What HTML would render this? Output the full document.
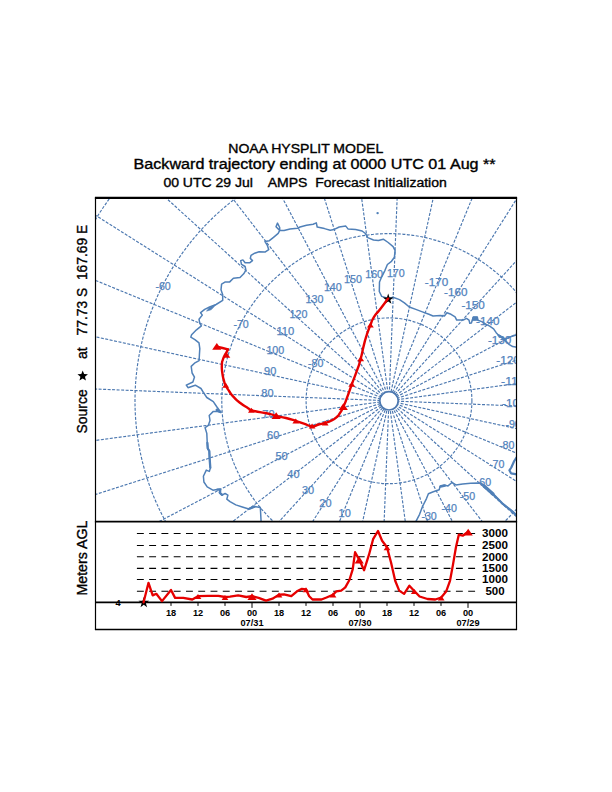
<!DOCTYPE html>
<html><head><meta charset="utf-8"><title>NOAA HYSPLIT MODEL</title>
<style>html,body{margin:0;padding:0;background:#fff}svg{display:block}text{font-family:"Liberation Sans",Arial,Helvetica,sans-serif}</style></head>
<body>
<svg width="612" height="792" viewBox="0 0 612 792">
<rect width="612" height="792" fill="#fff"/>
<defs><clipPath id="mapclip"><rect x="95.5" y="197.6" width="421.0" height="324.0"/></clipPath></defs>
<g clip-path="url(#mapclip)">
<g fill="none" stroke="#4c78b0" stroke-width="1.15" stroke-dasharray="3 1.5">
<line x1="391.0" y1="391.8" x2="530.4" y2="-247.8" stroke-dashoffset="0.0"/>
<line x1="392.5" y1="392.3" x2="640.9" y2="-213.4" stroke-dashoffset="0.2"/>
<line x1="393.9" y1="393.0" x2="743.7" y2="-160.3" stroke-dashoffset="0.4"/>
<line x1="395.2" y1="394.0" x2="835.7" y2="-90.2" stroke-dashoffset="0.6"/>
<line x1="396.3" y1="395.2" x2="914.2" y2="-5.1" stroke-dashoffset="0.8"/>
<line x1="397.1" y1="396.5" x2="976.7" y2="92.2" stroke-dashoffset="1.0"/>
<line x1="397.8" y1="398.0" x2="1021.4" y2="199.0" stroke-dashoffset="1.2"/>
<line x1="398.1" y1="399.6" x2="1046.8" y2="311.9" stroke-dashoffset="1.4"/>
<line x1="398.2" y1="401.2" x2="1052.3" y2="427.4" stroke-dashoffset="1.6"/>
<line x1="398.0" y1="402.8" x2="1037.6" y2="542.2" stroke-dashoffset="1.8"/>
<line x1="397.5" y1="404.3" x2="1003.2" y2="652.7" stroke-dashoffset="2.0"/>
<line x1="396.8" y1="405.7" x2="950.1" y2="755.5" stroke-dashoffset="2.2"/>
<line x1="395.8" y1="407.0" x2="880.0" y2="847.5" stroke-dashoffset="2.4"/>
<line x1="394.6" y1="408.1" x2="794.9" y2="926.0" stroke-dashoffset="2.6"/>
<line x1="393.3" y1="408.9" x2="697.6" y2="988.5" stroke-dashoffset="2.8"/>
<line x1="391.8" y1="409.6" x2="590.8" y2="1033.2" stroke-dashoffset="3.0"/>
<line x1="390.2" y1="409.9" x2="477.9" y2="1058.6" stroke-dashoffset="3.2"/>
<line x1="388.6" y1="410.0" x2="362.4" y2="1064.1" stroke-dashoffset="3.4"/>
<line x1="387.0" y1="409.8" x2="247.6" y2="1049.4" stroke-dashoffset="3.6"/>
<line x1="385.5" y1="409.3" x2="137.1" y2="1015.0" stroke-dashoffset="3.8"/>
<line x1="384.1" y1="408.6" x2="34.3" y2="961.9" stroke-dashoffset="4.0"/>
<line x1="382.8" y1="407.6" x2="-57.7" y2="891.8" stroke-dashoffset="4.2"/>
<line x1="381.7" y1="406.4" x2="-136.2" y2="806.7" stroke-dashoffset="4.4"/>
<line x1="380.9" y1="405.1" x2="-198.7" y2="709.4" stroke-dashoffset="0.0"/>
<line x1="380.2" y1="403.6" x2="-243.4" y2="602.6" stroke-dashoffset="0.2"/>
<line x1="379.9" y1="402.0" x2="-268.8" y2="489.7" stroke-dashoffset="0.4"/>
<line x1="379.8" y1="400.4" x2="-274.3" y2="374.2" stroke-dashoffset="0.6"/>
<line x1="380.0" y1="398.8" x2="-259.6" y2="259.4" stroke-dashoffset="0.8"/>
<line x1="380.5" y1="397.3" x2="-225.2" y2="148.9" stroke-dashoffset="1.0"/>
<line x1="381.2" y1="395.9" x2="-172.1" y2="46.1" stroke-dashoffset="1.2"/>
<line x1="382.2" y1="394.6" x2="-102.0" y2="-45.9" stroke-dashoffset="1.4"/>
<line x1="383.4" y1="393.5" x2="-16.9" y2="-124.4" stroke-dashoffset="1.6"/>
<line x1="384.7" y1="392.7" x2="80.4" y2="-186.9" stroke-dashoffset="1.8"/>
<line x1="386.2" y1="392.0" x2="187.2" y2="-231.6" stroke-dashoffset="2.0"/>
<line x1="387.8" y1="391.7" x2="300.1" y2="-257.0" stroke-dashoffset="2.2"/>
<line x1="389.4" y1="391.6" x2="415.6" y2="-262.5" stroke-dashoffset="2.4"/>
<circle cx="389.0" cy="400.8" r="82.9"/>
<circle cx="389.0" cy="400.8" r="167.2"/>
<circle cx="389.0" cy="400.8" r="254.0"/>
<circle cx="389.0" cy="400.8" r="345.0"/>
<circle cx="389.0" cy="400.8" r="442.1"/>
</g>
<circle cx="389.0" cy="400.8" r="9.2" fill="none" stroke="#4c78b0" stroke-width="1.7"/>
<g fill="none" stroke="#5080b8" stroke-width="1.5" stroke-linejoin="round" stroke-linecap="round">
<polyline points="261.1,521.9 260.6,512.3 260.3,507.4 254.5,506.5 248.8,509.0 242.3,507.0 235.8,504.9 230.0,501.6 226.8,499.2 227.9,495.1 225.1,493.5 221.9,495.1 219.4,492.7 220.2,489.1 217.0,489.4 212.9,490.2 207.2,486.9 203.9,482.0 203.4,476.3 206.3,470.1 209.3,471.4 210.4,468.1 209.6,458.3 209.3,451.0 207.6,448.5 207.2,442.0 206.8,433.4 205.1,427.7 208.4,425.3 210.0,420.4 209.2,415.5 213.3,411.4 217.4,411.4 220.7,412.2 216.6,406.5 213.3,401.6 206.8,397.5 203.5,392.6 201.0,388.5 195.3,385.2 188.0,387.7 186.3,385.2 192.9,382.0 194.5,377.1 192.1,373.0 191.2,366.4 194.5,363.2 199.1,360.7 199.4,355.0 199.8,348.6 199.0,342.9 194.9,339.6 190.8,337.2 191.6,334.7 196.5,329.8 201.4,325.8 199.8,323.3 199.0,319.2 202.3,315.1 200.6,312.7 204.7,309.4 209.6,307.0 216.1,304.5 222.7,300.4 222.7,294.7 221.0,289.8 221.6,284.1 225.3,281.9 229.7,281.9 233.4,278.2 240.0,277.5 243.7,273.8 245.9,270.1 245.1,266.5 241.5,264.3 240.7,260.6 242.9,259.9 245.1,262.8 249.6,262.8 252.5,260.6 250.3,258.4 251.0,255.4 254.7,253.2 259.1,251.8 265.0,252.1 268.7,249.6 267.2,245.1 265.0,241.5 269.4,240.7 273.8,237.1 278.2,233.4 279.7,230.4 276.0,226.8 277.5,223.1 279.7,227.5 279.7,230.4 284.1,230.4 290.0,229.0 297.4,228.2 300.0,227.0 306.5,225.3 313.1,224.2 316.3,222.9 317.2,227.0 324.5,228.6 330.2,230.2 334.3,229.4 339.2,227.0 345.8,226.1 348.2,229.1 355.6,229.4 362.1,231.0 365.4,233.5 367.8,237.6 373.5,240.0 378.4,240.5 383.3,239.2 388.2,242.5 393.1,246.6 395.1,250.7 394.4,257.2 391.5,261.3 387.4,264.5 385.0,270.3 381.7,276.8 379.5,282.0 379.3,291.5 381.7,296.4 386.6,298.0 388.1,298.6 393.0,297.2 399.5,299.6 404.4,302.9 409.3,307.0 415.8,309.4 422.4,311.9 428.9,314.3 433.0,316.0 440.4,315.5 444.4,316.0 446.9,312.7 451.0,314.3 455.1,316.8 456.7,320.1 463.2,320.1 466.5,318.4 469.0,320.1 469.8,323.3 471.4,322.9 473.3,317.0 477.3,317.0 477.9,320.3 481.8,321.6 485.8,324.2 489.7,326.2 493.6,328.8 496.2,332.7 498.8,335.5 502.2,337.5 506.1,341.4 509.4,344.6 512.7,346.6 518.0,347.3"/>
<polyline points="504.0,339.5 510.7,336.8 518.0,334.3"/>
<polyline points="415.7,521.9 419.6,514.3 422.5,506.5 426.5,498.6 428.4,493.7 433.3,491.8 439.2,489.8 440.2,485.9 444.1,484.9 448.0,485.9 452.0,482.5 455.9,484.9 462.7,483.9 470.6,483.3 478.4,482.9 481.0,483.2 491.5,492.6 502.2,503.3 512.9,511.9 518.0,517.0"/>
<polyline points="516.5,457.5 514.2,461.0 511.3,467.5 509.4,470.3 511.0,473.3 518.0,474.6" stroke-width="2.2"/>
<polyline points="482.5,484.5 491.5,492.6 502.2,503.3 512.9,511.9 518.0,517.0" stroke-width="2.2"/>
<polyline points="484.0,486.0 493.0,494.0" stroke-width="3.2"/>
<polygon points="216.1,304.5 209,308 206.5,311.2 211,309.8" fill="#5080b8" stroke-width="0.6"/>
<circle cx="377.6" cy="213.1" r="1.2" fill="#5080b8" stroke="none"/>
<polygon points="473.3,317 477.3,317 477.9,320.3 472.6,320.6" fill="#5080b8" stroke-width="0.8"/>
<polyline points="498.8,335.5 502.2,337.5 505,340" stroke-width="2.6"/>
<polyline points="217.5,489.6 220.2,489.6 220,492.9 222.2,494.8" stroke-width="2.4"/>
<polyline points="249.5,508.6 254.5,506.7" stroke-width="2.4"/>
<polyline points="216.8,409.8 220.5,412" stroke-width="2.6"/>
<polyline points="440.6,486.6 445,485.6" stroke-width="2.4"/>
<polyline points="207.4,443 207.8,448.5 209.3,451 209.6,458.3 210.3,467.5" stroke-width="2.3"/>
</g>
<g fill="#5283bd" stroke="#5283bd" stroke-width="0.25" font-size="10.7px">
<text x="424.8" y="286.0" textLength="23.4" lengthAdjust="spacingAndGlyphs">-170</text>
<text x="444.1" y="296.0" textLength="23.4" lengthAdjust="spacingAndGlyphs">-160</text>
<text x="461.4" y="309.2" textLength="23.4" lengthAdjust="spacingAndGlyphs">-150</text>
<text x="476.1" y="325.2" textLength="23.4" lengthAdjust="spacingAndGlyphs">-140</text>
<text x="487.9" y="343.5" textLength="23.4" lengthAdjust="spacingAndGlyphs">-130</text>
<text x="496.3" y="363.6" textLength="23.4" lengthAdjust="spacingAndGlyphs">-120</text>
<text x="501.1" y="384.8" textLength="23.4" lengthAdjust="spacingAndGlyphs">-110</text>
<text x="502.1" y="406.5" textLength="23.4" lengthAdjust="spacingAndGlyphs">-100</text>
<text x="505.4" y="428.1" textLength="15.4" lengthAdjust="spacingAndGlyphs">-90</text>
<text x="499.0" y="448.9" textLength="15.4" lengthAdjust="spacingAndGlyphs">-80</text>
<text x="489.0" y="468.2" textLength="15.4" lengthAdjust="spacingAndGlyphs">-70</text>
<text x="475.8" y="485.5" textLength="15.4" lengthAdjust="spacingAndGlyphs">-60</text>
<text x="459.8" y="500.2" textLength="15.4" lengthAdjust="spacingAndGlyphs">-50</text>
<text x="441.5" y="512.0" textLength="15.4" lengthAdjust="spacingAndGlyphs">-40</text>
<text x="421.4" y="520.4" textLength="15.4" lengthAdjust="spacingAndGlyphs">-30</text>
<text x="338.6" y="517.0" textLength="12.2" lengthAdjust="spacingAndGlyphs">10</text>
<text x="319.3" y="507.0" textLength="12.2" lengthAdjust="spacingAndGlyphs">20</text>
<text x="302.0" y="493.8" textLength="12.2" lengthAdjust="spacingAndGlyphs">30</text>
<text x="287.3" y="477.8" textLength="12.2" lengthAdjust="spacingAndGlyphs">40</text>
<text x="275.5" y="459.5" textLength="12.2" lengthAdjust="spacingAndGlyphs">50</text>
<text x="267.1" y="439.4" textLength="12.2" lengthAdjust="spacingAndGlyphs">60</text>
<text x="262.3" y="418.2" textLength="12.2" lengthAdjust="spacingAndGlyphs">70</text>
<text x="261.3" y="396.5" textLength="12.2" lengthAdjust="spacingAndGlyphs">80</text>
<text x="264.1" y="374.9" textLength="12.2" lengthAdjust="spacingAndGlyphs">90</text>
<text x="266.4" y="354.1" textLength="17.9" lengthAdjust="spacingAndGlyphs">100</text>
<text x="276.4" y="334.8" textLength="17.9" lengthAdjust="spacingAndGlyphs">110</text>
<text x="289.6" y="317.5" textLength="17.9" lengthAdjust="spacingAndGlyphs">120</text>
<text x="305.6" y="302.8" textLength="17.9" lengthAdjust="spacingAndGlyphs">130</text>
<text x="323.9" y="291.0" textLength="17.9" lengthAdjust="spacingAndGlyphs">140</text>
<text x="344.0" y="282.6" textLength="17.9" lengthAdjust="spacingAndGlyphs">150</text>
<text x="365.2" y="277.8" textLength="17.9" lengthAdjust="spacingAndGlyphs">160</text>
<text x="386.9" y="276.8" textLength="17.9" lengthAdjust="spacingAndGlyphs">170</text>
<text x="308.0" y="366.5" textLength="15.4" lengthAdjust="spacingAndGlyphs">-80</text>
<text x="233.4" y="328.0" textLength="15.4" lengthAdjust="spacingAndGlyphs">-70</text>
<text x="155.4" y="289.7" textLength="15.4" lengthAdjust="spacingAndGlyphs">-60</text>
</g>
<polygon points="388.20,293.60 389.49,297.42 393.53,297.47 390.29,299.88 391.49,303.73 388.20,301.40 384.91,303.73 386.11,299.88 382.87,297.47 386.91,297.42" fill="#000"/>
<path d="M388.1,298.6C385.4,302.1 384.8,303.0 380.1,309.2C375.4,315.4 377.1,311.8 373.9,317.1C370.7,322.4 372.8,319.2 370.4,325.1C368.0,331.0 369.0,328.0 366.8,334.8C364.6,341.6 365.8,337.4 363.8,345.4C361.8,353.4 362.9,350.4 360.7,358.7C358.5,367.0 360.1,361.7 357.1,370.2C354.1,378.7 355.0,375.5 351.8,384.3C348.6,393.1 350.2,389.2 347.4,396.7C344.6,404.2 345.8,401.4 343.3,406.9C340.8,412.4 342.1,409.7 339.9,413.1C337.7,416.5 339.3,414.8 336.6,417.2C333.9,419.6 335.5,418.5 331.7,420.4C327.9,422.3 329.6,421.5 325.2,422.9C320.8,424.3 323.0,423.4 318.6,424.5C314.2,425.6 317.0,426.4 312.1,426.1C307.2,425.8 309.3,425.4 303.9,423.7C298.5,422.0 301.8,422.8 295.8,420.9C289.8,419.0 292.5,419.6 286.0,418.0C279.5,416.4 281.4,417.3 276.2,416.0C271.0,414.7 275.8,415.4 270.4,414.1C265.0,412.8 266.2,413.4 259.9,412.1C253.6,410.8 255.3,411.5 251.4,410.2C247.5,408.9 251.8,410.6 248.1,408.2C244.4,405.8 245.1,406.7 240.3,403.0C235.5,399.3 237.5,401.0 233.8,397.1C230.1,393.2 231.9,395.1 229.2,391.2C226.5,387.3 227.4,388.8 225.7,385.3C224.0,381.8 225.1,384.9 224.0,380.8C222.9,376.7 223.0,378.3 222.3,372.9C221.6,367.5 221.7,369.0 221.9,364.5C222.1,360.0 222.0,362.6 222.9,359.5C223.8,356.4 223.5,357.7 224.7,355.3C225.9,352.9 225.5,354.2 226.6,352.2C227.7,350.2 227.5,350.3 227.9,349.4" fill="none" stroke="#e60000" stroke-width="2.4" stroke-linejoin="round" stroke-linecap="round"/>
<polyline points="227.9,349.4 222.5,348.0 216.8,346.6" fill="none" stroke="#e60000" stroke-width="2.4" stroke-linejoin="round" stroke-linecap="round"/>
<g fill="#e60000">
<polygon points="367.0,327.6 373.8,327.6 370.4,322.6"/>
<polygon points="357.3,361.2 364.1,361.2 360.7,356.2"/>
<polygon points="348.4,386.8 355.2,386.8 351.8,381.8"/>
<polygon points="338.7,410.0 347.9,410.0 343.3,403.2"/>
<polygon points="321.8,425.4 328.6,425.4 325.2,420.4"/>
<polygon points="308.7,428.6 315.5,428.6 312.1,423.6"/>
<polygon points="292.4,423.4 299.2,423.4 295.8,418.4"/>
<polygon points="271.6,419.1 280.8,419.1 276.2,412.3"/>
<polygon points="248.0,412.7 254.8,412.7 251.4,407.7"/>
<polygon points="222.3,387.8 229.1,387.8 225.7,382.8"/>
<polygon points="223.5,357.8 230.3,357.8 226.9,352.8"/>
<polygon points="212.2,349.7 221.4,349.7 216.8,342.9"/>
</g>
</g>
<g stroke="#000" stroke-width="1.1" stroke-dasharray="6.9 5.37">
<line x1="136.9" y1="533.5" x2="476" y2="533.5"/>
<line x1="136.9" y1="545.5" x2="476" y2="545.5"/>
<line x1="136.9" y1="556.7" x2="476" y2="556.7"/>
<line x1="136.9" y1="568.4" x2="476" y2="568.4"/>
<line x1="136.9" y1="579.5" x2="476" y2="579.5"/>
<line x1="136.9" y1="591.3" x2="476" y2="591.3"/>
</g>
<g fill="none" stroke="#000">
<line x1="94.9" y1="197.79999999999998" x2="517.1" y2="197.79999999999998" stroke-width="2.2"/>
<line x1="95.5" y1="197.6" x2="95.5" y2="629.5" stroke-width="1.2"/>
<line x1="516.5" y1="197.6" x2="516.5" y2="629.5" stroke-width="1.2"/>
<line x1="94.9" y1="521.6" x2="517.1" y2="521.6" stroke-width="1.6"/>
<line x1="94.9" y1="629.5" x2="517.1" y2="629.5" stroke-width="1.4"/>
<line x1="95.5" y1="602.4" x2="516.5" y2="602.4" stroke-width="1.7"/>
<line x1="171.0" y1="602.4" x2="171.0" y2="605.9" stroke-width="1"/>
<line x1="198.0" y1="602.4" x2="198.0" y2="605.9" stroke-width="1"/>
<line x1="225.0" y1="602.4" x2="225.0" y2="605.9" stroke-width="1"/>
<line x1="252.0" y1="602.4" x2="252.0" y2="607.9" stroke-width="1"/>
<line x1="279.0" y1="602.4" x2="279.0" y2="605.9" stroke-width="1"/>
<line x1="306.0" y1="602.4" x2="306.0" y2="605.9" stroke-width="1"/>
<line x1="333.0" y1="602.4" x2="333.0" y2="605.9" stroke-width="1"/>
<line x1="360.0" y1="602.4" x2="360.0" y2="607.9" stroke-width="1"/>
<line x1="387.0" y1="602.4" x2="387.0" y2="605.9" stroke-width="1"/>
<line x1="414.0" y1="602.4" x2="414.0" y2="605.9" stroke-width="1"/>
<line x1="441.0" y1="602.4" x2="441.0" y2="605.9" stroke-width="1"/>
<line x1="468.0" y1="602.4" x2="468.0" y2="607.9" stroke-width="1"/>
</g>
<polygon points="143.80,597.00 145.09,600.82 149.13,600.87 145.89,603.28 147.09,607.13 143.80,604.80 140.51,607.13 141.71,603.28 138.47,600.87 142.51,600.82" fill="#000"/>
<polyline points="143.6,602.3 148.5,582.8 152.7,595.4 156.3,593.8 162.0,601.1 171.0,590.0 175.1,597.9 183.3,597.9 192.3,599.5 198.0,596.2 208.0,595.8 218.4,595.8 225.0,597.0 230.0,596.6 238.2,595.4 246.3,597.0 252.0,596.2 258.6,597.9 266.0,600.7 272.5,598.7 279.0,594.6 284.0,594.3 291.3,596.2 297.0,591.3 301.9,588.9 306.0,589.4 309.2,596.2 312.5,599.5 321.5,599.5 326.5,597.5 333.0,594.7 336.3,591.4 341.2,590.6 345.3,587.4 349.4,580.0 352.7,569.4 355.1,552.2 359.2,559.6 364.1,570.2 369.0,554.7 373.1,539.2 378.0,531.0 382.1,540.8 387.0,547.3 391.1,562.8 395.2,580.8 399.2,590.6 404.1,593.9 409.4,585.7 414.3,591.0 419.6,596.5 427.5,599.0 435.3,599.5 441.2,597.5 446.1,591.6 450.0,580.8 452.9,565.1 455.9,547.5 458.8,534.7 462.7,535.7 468.2,531.8" fill="none" stroke="#e60000" stroke-width="2.3" stroke-linejoin="round" stroke-linecap="round"/>
<g fill="#e60000">
<polygon points="194.6,599.1 201.4,599.1 198.0,594.1"/>
<polygon points="221.6,599.9 228.4,599.9 225.0,594.9"/>
<polygon points="247.4,600.0 256.6,600.0 252.0,593.2"/>
<polygon points="275.6,597.5 282.4,597.5 279.0,592.5"/>
<polygon points="302.6,592.3 309.4,592.3 306.0,587.3"/>
<polygon points="329.6,597.6 336.4,597.6 333.0,592.6"/>
<polygon points="354.6,563.4 363.8,563.4 359.2,556.6"/>
<polygon points="383.6,550.2 390.4,550.2 387.0,545.2"/>
<polygon points="410.9,593.9 417.7,593.9 414.3,588.9"/>
<polygon points="437.8,600.4 444.6,600.4 441.2,595.4"/>
<polygon points="463.6,535.6 472.8,535.6 468.2,528.8"/>
</g>
<g fill="#000" stroke="#000" stroke-width="0.35">
<text x="228.3" y="152.7" font-size="12.5px" textLength="155" lengthAdjust="spacingAndGlyphs">NOAA HYSPLIT MODEL</text>
<text x="133.6" y="169.4" font-size="13.8px" textLength="362" lengthAdjust="spacingAndGlyphs">Backward trajectory ending at 0000 UTC 01 Aug **</text>
<text x="163.4" y="186.6" font-size="12.5px" textLength="283.4" lengthAdjust="spacingAndGlyphs" xml:space="preserve">00 UTC 29 Jul    AMPS  Forecast Initialization</text>
<text transform="translate(86.9,433.4) rotate(-90)" font-size="13.9px" xml:space="preserve">Source</text>
<text transform="translate(86.9,359) rotate(-90)" font-size="13.9px" xml:space="preserve">at</text>
<text transform="translate(86.9,335.4) rotate(-90)" font-size="13.9px" textLength="110.6" lengthAdjust="spacingAndGlyphs" xml:space="preserve">77.73 S  167.69 E</text>
<text transform="translate(86.9,595.6) rotate(-90)" font-size="13.9px" textLength="75" lengthAdjust="spacingAndGlyphs">Meters AGL</text>
</g>
<polygon points="82.70,370.50 84.11,374.06 87.93,374.30 84.98,376.74 85.93,380.45 82.70,378.40 79.47,380.45 80.42,376.74 77.47,374.30 81.29,374.06" fill="#000"/>
<g fill="#000" font-size="9.2px" text-anchor="middle" font-weight="bold">
<text x="171.0" y="616.2">18</text>
<text x="198.0" y="616.2">12</text>
<text x="225.0" y="616.2">06</text>
<text x="252.0" y="616.2">00</text>
<text x="279.0" y="616.2">18</text>
<text x="306.0" y="616.2">12</text>
<text x="333.0" y="616.2">06</text>
<text x="360.0" y="616.2">00</text>
<text x="387.0" y="616.2">18</text>
<text x="414.0" y="616.2">12</text>
<text x="441.0" y="616.2">06</text>
<text x="468.0" y="616.2">00</text>
<text x="252.0" y="626.4">07/31</text>
<text x="360.0" y="626.4">07/30</text>
<text x="468.0" y="626.4">07/29</text>
<text x="118" y="605.6">4</text>
</g>
<g fill="#000" font-size="11px" text-anchor="middle" font-weight="bold">
<text x="495" y="537.4" textLength="25.9" lengthAdjust="spacingAndGlyphs">3000</text>
<text x="495" y="549.4" textLength="25.9" lengthAdjust="spacingAndGlyphs">2500</text>
<text x="495" y="560.6" textLength="25.9" lengthAdjust="spacingAndGlyphs">2000</text>
<text x="495" y="572.3" textLength="25.9" lengthAdjust="spacingAndGlyphs">1500</text>
<text x="495" y="583.4" textLength="25.9" lengthAdjust="spacingAndGlyphs">1000</text>
<text x="495" y="595.2" textLength="19.2" lengthAdjust="spacingAndGlyphs">500</text>
</g>
</svg></body></html>
